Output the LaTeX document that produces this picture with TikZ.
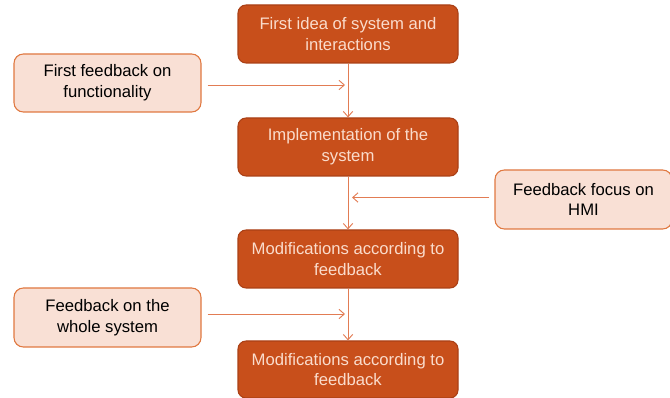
\documentclass[tikz,border=0pt]{standalone}
\usepackage{fontspec}
\setmainfont{Liberation Sans}
\usetikzlibrary{arrows.meta}
\definecolor{stepfill}{RGB}{200,79,27}
\definecolor{stepline}{RGB}{170,64,22}
\definecolor{steptext}{RGB}{250,220,204}
\definecolor{fbfill}{RGB}{249,224,213}
\definecolor{fbline}{RGB}{224,120,64}
\definecolor{linkline}{RGB}{226,124,84}
\tikzset{
  stepbox/.style={draw=stepline, fill=stepfill, text=steptext, rounded corners=6pt,
    line width=0.8pt, minimum width=220*0.75pt, minimum height=58*0.75pt,
    align=center, inner sep=0pt, font=\fontsize{12.5}{15.6}\selectfont},
  fbbox/.style={draw=fbline, fill=fbfill, text=black, rounded corners=7pt,
    line width=0.8pt, minimum width=187*0.75pt, minimum height=58*0.75pt,
    align=center, inner sep=0pt, font=\fontsize{12.5}{15.6}\selectfont},
  link/.style={draw=linkline, line width=0.7pt,
    -{Straight Barb[length=4pt,width=7pt,line width=0.7pt]}}
}
\begin{document}
\begin{tikzpicture}[x=0.75pt,y=-0.75pt]
\useasboundingbox (0,0) rectangle (670,398);
\begin{scope}
\clip (0,0) rectangle (670,398);
% main process steps
\node[stepbox] (s1) at (348,34) {First idea of system and\\interactions};
\node[stepbox] (s2) at (348,147) {Implementation of the\\system};
\node[stepbox] (s3) at (348,259) {Modifications according to\\feedback};
\node[stepbox, minimum height=57*0.75pt] (s4) at (348,369.5) {Modifications according to\\feedback};
% feedback inputs
\node[fbbox] (f1) at (107.5,83) {First feedback on\\functionality};
\node[fbbox, minimum width=177*0.75pt, minimum height=59*0.75pt] (f2) at (583.5,199.5) {Feedback focus on\\HMI};
\node[fbbox, minimum height=59*0.75pt] (f3) at (107.5,317.5) {Feedback on the\\whole system};
% junctions on the main flow
\coordinate (j1) at (348,85);
\coordinate (j2) at (348,197.5);
\coordinate (j3) at (348,314);
% main flow
\draw[link] (s1.south) -- (s2.north);
\draw[link] (s2.south) -- (s3.north);
\draw[link] (s3.south) -- (s4.north);
% feedback arrows
\draw[link] ([xshift=6*0.75pt]f1.east |- j1) -- ([xshift=-3*0.75pt]j1);
\draw[link] ([xshift=-5*0.75pt]f2.west |- j2) -- ([xshift=4*0.75pt]j2);
\draw[link] ([xshift=6*0.75pt]f3.east |- j3) -- ([xshift=-3*0.75pt]j3);
\end{scope}
\end{tikzpicture}
\end{document}
